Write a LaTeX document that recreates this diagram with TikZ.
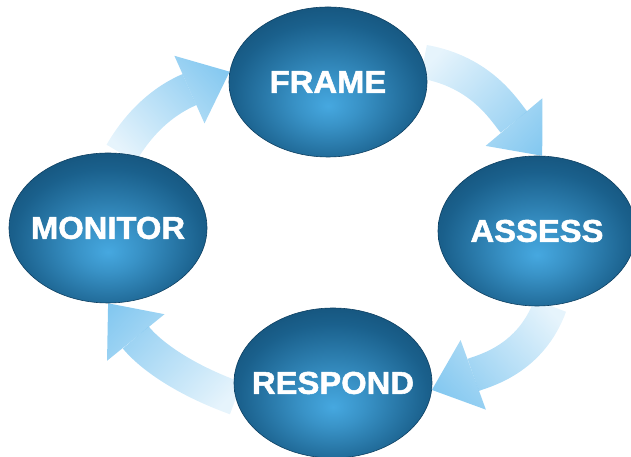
\documentclass[tikz,border=0pt]{standalone}
\usepackage{fontspec}
\newfontfamily\orbfont[FakeStretch=1.04,FakeBold=1.6]{Liberation Sans}
\usetikzlibrary{shapes.geometric,arrows.meta,fadings,backgrounds}

\definecolor{orbdark}{RGB}{14,64,98}
\definecolor{orbmid}{RGB}{26,96,140}
\definecolor{orblight}{RGB}{70,168,224}
\definecolor{flowblue}{RGB}{132,200,240}

\pgfdeclareradialshading{orbglow}{\pgfpoint{0bp}{-8bp}}{%
  color(0bp)=(orblight); color(8bp)=(orblight!70!orbmid);
  color(24bp)=(orbmid); color(40bp)=(orbdark); color(50bp)=(orbdark)}

\tikzfading[name=flowfade, left color=transparent!80, right color=transparent!0]

\begin{document}
\begin{tikzpicture}[
  x=1bp, y=1bp,
  orb/.style={ellipse, minimum width=198bp, minimum height=150bp,
    inner xsep=-40bp, inner ysep=0pt,
    shade, shading=orbglow, draw=orbdark, line width=.6bp, text=white,
    font=\orbfont\bfseries\fontsize{31.5bp}{36bp}\selectfont},
  flow/.style={draw=flowblue, line width=34bp,
    -{Triangle[width=74bp,length=44bp,line width=0pt,fill=flowblue]},
    path fading=flowfade}
]
\useasboundingbox (0,0) rectangle (631,457);

\node (frame) [orb] at (328,375) {FRAME};
\node (assess) [orb] at (537,226) {ASSESS};
\node (respond) [orb] at (333,74) {RESPOND};
\node (monitor) [orb] at (108,229) {MONITOR};

% the cycle, kept behind the four stages
\begin{scope}[on background layer]
  \draw [flow, fading angle=38] (monitor.80) to[out=60, in=204] (frame.174);
  \draw [flow, fading angle=-38] (frame.12) to[out=-10, in=130] (assess.86);
  \draw [flow, fading angle=215] (assess.-80) to[out=250, in=20] (respond.-4);
  \draw [flow, fading angle=143] (respond.189) to[out=160, in=-51] (monitor.-90);
\end{scope}

\end{tikzpicture}
\end{document}
